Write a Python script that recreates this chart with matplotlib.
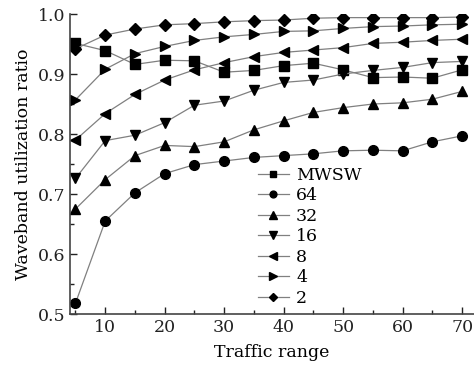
import matplotlib
matplotlib.use("Agg")
import matplotlib.pyplot as plt
from matplotlib.ticker import MultipleLocator

plt.rcParams['font.family'] = ['DejaVu Serif']
plt.rcParams['mathtext.fontset'] = 'dejavuserif'

traffic = [5, 10, 15, 20, 25, 30, 35, 40, 45, 50, 55, 60, 65, 70]

mwsw = [0.951, 0.939, 0.916, 0.923, 0.922, 0.903, 0.906, 0.914, 0.918, 0.907, 0.894, 0.895, 0.893, 0.907]
w64 = [0.518, 0.655, 0.702, 0.734, 0.749, 0.755, 0.761, 0.764, 0.767, 0.772, 0.773, 0.772, 0.787, 0.797]
w32 = [0.675, 0.724, 0.764, 0.781, 0.779, 0.787, 0.807, 0.822, 0.836, 0.844, 0.850, 0.852, 0.858, 0.871]
w16 = [0.726, 0.789, 0.798, 0.819, 0.848, 0.855, 0.873, 0.886, 0.890, 0.900, 0.906, 0.911, 0.919, 0.921]
w8 = [0.790, 0.834, 0.866, 0.890, 0.907, 0.919, 0.929, 0.936, 0.940, 0.944, 0.951, 0.953, 0.956, 0.958]
w4 = [0.857, 0.908, 0.934, 0.946, 0.956, 0.962, 0.966, 0.971, 0.972, 0.976, 0.979, 0.980, 0.982, 0.983]
w2 = [0.942, 0.965, 0.975, 0.982, 0.984, 0.987, 0.989, 0.990, 0.993, 0.994, 0.994, 0.994, 0.994, 0.995]

labels = ["MWSW", "64", "32", "16", "8", "4", "2"]
series = [mwsw, w64, w32, w16, w8, w4, w2]
markers = ["s", "o", "^", "v", "<", ">", "D"]
msizes = [6.5, 7, 7.5, 7.5, 7.5, 7.5, 6]

fig = plt.figure(figsize=(4.74, 3.69), dpi=100)
ax = fig.add_axes([0.1477, 0.149, 0.8523, 0.813])

for ys, lab, m, ms in zip(series, labels, markers, msizes):
    ax.plot(traffic, ys, color="#808080", linewidth=0.9, marker=m, markersize=ms,
            markerfacecolor="black", markeredgecolor="black", label=lab)

ax.set_xlim(4.08, 72)
ax.set_ylim(0.5, 1.0)
ax.xaxis.set_major_locator(MultipleLocator(10))
ax.xaxis.set_minor_locator(MultipleLocator(5))
ax.yaxis.set_major_locator(MultipleLocator(0.1))
ax.yaxis.set_minor_locator(MultipleLocator(0.05))
ax.set_xticks([10, 20, 30, 40, 50, 60, 70])
ax.tick_params(which="both", direction="in", labelsize=12.5, colors="#222222")
ax.tick_params(which="major", length=5, width=1)
ax.tick_params(which="minor", length=3, width=1)
for s in ["top", "right"]:
    ax.spines[s].set_visible(False)
for s in ["left", "bottom"]:
    ax.spines[s].set_color("#444444")
    ax.spines[s].set_linewidth(1.2)

ax.set_xlabel("Traffic range", fontsize=12.5, labelpad=6)
ax.set_ylabel("Waveband utilization ratio", fontsize=12.5, labelpad=4)

leg = ax.legend(loc="upper left", bbox_to_anchor=(0.465, 0.49), frameon=False,
                fontsize=12.5, handlelength=1.8, handletextpad=0.4,
                labelspacing=0.2, borderaxespad=0, borderpad=0, markerscale=0.7)

fig.savefig("out.png", dpi=100)
